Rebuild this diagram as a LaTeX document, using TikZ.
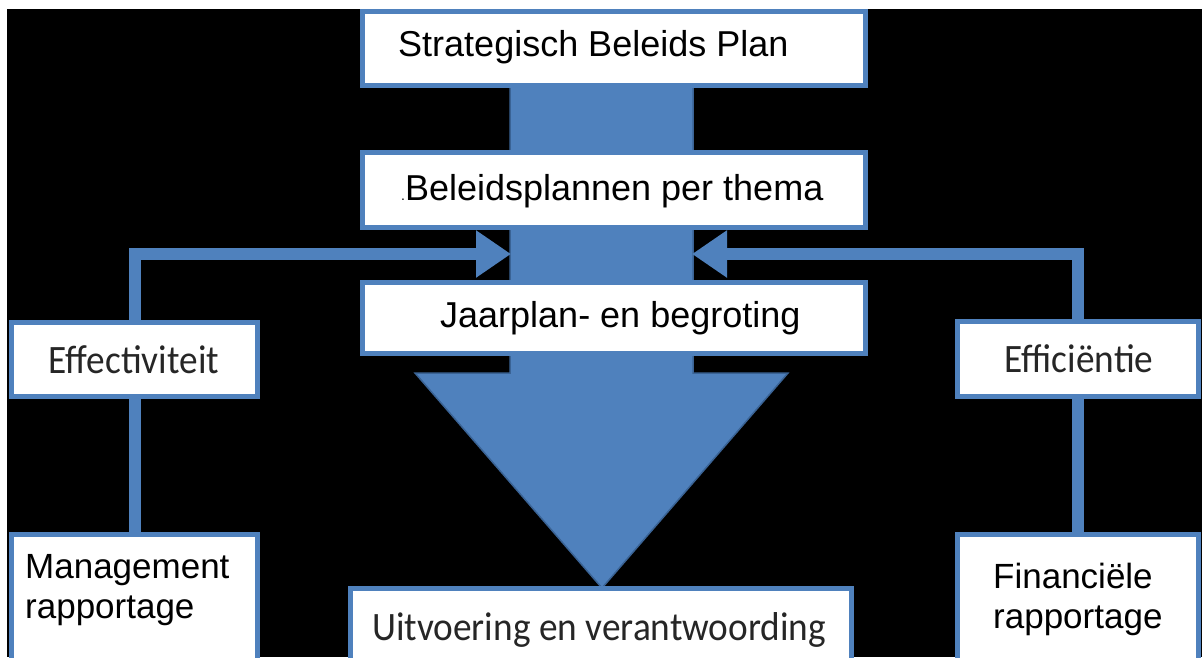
\documentclass[tikz,border=0pt]{standalone}
\usepackage{fontspec}
\newfontfamily\arialf{Liberation Sans}
\newfontfamily\calibrif{Carlito}
\usetikzlibrary{arrows.meta,fit}
\definecolor{obl}{HTML}{4F81BD}
\definecolor{obd}{HTML}{3A6395}
\newcommand\tallc[1]{\scalebox{1}[1.08]{#1}}
\begin{document}
\begin{tikzpicture}[x=1pt,y=-1pt,
  box/.style={draw=obl, line width=5pt, fill=white, inner sep=0pt},
  conn/.style={draw=obl, line width=12pt},
  tipB/.style={-{Triangle[length=35pt,width=45pt]}},
  arialT/.style={font=\arialf\fontsize{36}{40}\selectfont, inner sep=0pt, text=black},
  arialS/.style={font=\arialf\fontsize{35}{40}\selectfont, inner sep=0pt, text=black},
  calT/.style={font=\calibrif\fontsize{37.3}{40}\selectfont, inner sep=0pt, text=black!85}]
\useasboundingbox (0,0) rectangle (1202,657);
\clip (0,0) rectangle (1202,657);
\fill[white] (0,0) rectangle (1202,657);
\fill[black] (7,9) rectangle (1202,657);
% big arrow
\filldraw[fill=obl, draw=obd, line width=1.5pt] (510,60) -- (510,373) -- (415,373) -- (602,588) -- (788,373) -- (693,373) -- (693,60) -- cycle;
% boxes
\node[box, fit={(362.5,11.5) (865.5,85.5)}] (sbp) {};
\node[box, fit={(362.5,152.5) (865.5,227.5)}] (bpt) {};
\node[box, fit={(362.5,282.5) (865.5,353.5)}] (jeb) {};
\node[box, fit={(11.5,322.5) (257.5,396.5)}] (eff) {};
\node[box, fit={(11.5,534.5) (257.5,672)}] (mgr) {};
\node[box, fit={(350.5,588.5) (851.5,672)}] (uev) {};
\node[box, fit={(957.5,321.5) (1198.5,396.5)}] (efc) {};
\node[box, fit={(957.5,534.5) (1198.5,672)}] (fin) {};
% connectors
\coordinate (shL) at (511,254);
\coordinate (shR) at (692,254);
\draw[conn, tipB] (eff.north -| 135,0) |- (shL);
\draw[conn, tipB] (efc.north -| 1078,0) |- (shR);
\draw[conn] (eff.south -| 135,0) -- (mgr.north -| 135,0);
\draw[conn] (efc.south -| 1078,0) -- (fin.north -| 1078,0);
% texts
\node[arialT, anchor=base west] (t1) at (398,56) {Strategisch Beleids Plan};
\node[arialT, anchor=base west] (t2) at (401,200) {{\fontsize{14}{14}\selectfont.}Beleidsplannen per thema};
\node[arialT, anchor=base west] (t3) at (440,327) {Jaarplan- en begroting};
\node[calT, anchor=base] (t4) at (134,373) {\tallc{Effectiviteit}};
\node[calT, anchor=base] (t5) at (1079,372) {\tallc{Efficiëntie}};
\node[arialS, anchor=base west] (t6) at (25,578) {Management};
\node[arialS, anchor=base west] (t7) at (25,618) {rapportage};
\node[arialS, anchor=base west] (t8) at (993,588) {Financiële};
\node[arialS, anchor=base west] (t9) at (993,628) {rapportage};
\node[calT, anchor=base west] (t10) at (372,640) {\tallc{Uitvoering en verantwoording}};
\end{tikzpicture}
\end{document}
